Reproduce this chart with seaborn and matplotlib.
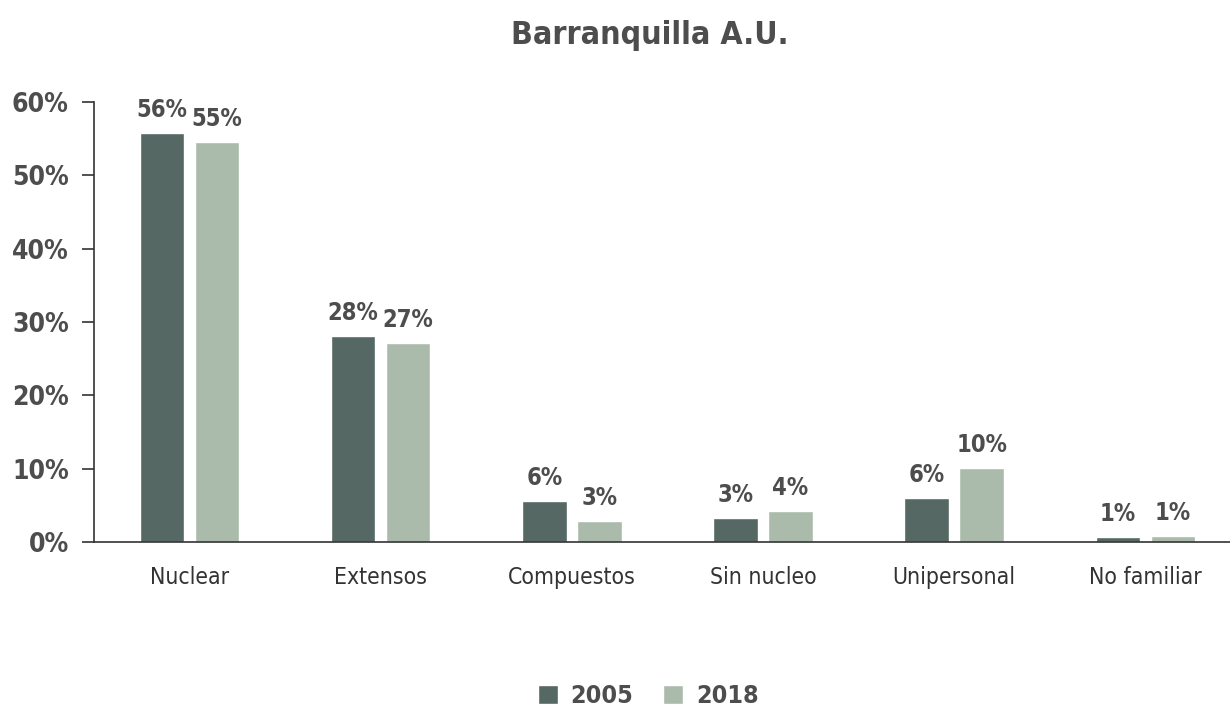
import pandas as pd
import matplotlib.pyplot as plt
import seaborn as sns

categorias = ['Nuclear', 'Extensos', 'Compuestos', 'Sin nucleo', 'Unipersonal', 'No familiar']
anios = ['2005', '2018']
valores_2005 = [55.8, 28.1, 5.6, 3.3, 6.0, 0.7]
valores_2018 = [54.6, 27.1, 2.9, 4.2, 10.1, 0.8]
colores = ['#536b66', '#a9bda9']
texto = '#4d4d4d'

df = pd.DataFrame({
    'categoria': categorias * 2,
    'anio': [anios[0]] * len(categorias) + [anios[1]] * len(categorias),
    'valor': valores_2005 + valores_2018,
})

sns.set_theme(style='ticks', rc={'axes.facecolor': 'white', 'figure.facecolor': 'white'})
plt.rcParams['font.family'] = ['DejaVu Sans']
plt.rcParams['font.stretch'] = 'condensed'

fig = plt.figure(figsize=(12.3, 7.09), dpi=100)
ax = fig.add_axes([0.0764, 0.2355, 0.9325, 0.6205])

sns.barplot(data=df, x='categoria', y='valor', hue='anio', palette=colores,
            width=0.575, gap=0.19, ax=ax, legend=True)

for cont in ax.containers:
    ax.bar_label(cont, fmt='{:.0f}%', padding=8, fontsize=17, fontweight='bold',
                 color=texto, fontstretch='condensed')

ax.set_ylim(0, 60)
ax.set_xlim(-0.5, 5.5)
ax.set_yticks(range(0, 61, 10))
ax.set_yticklabels([f'{v}%' for v in range(0, 61, 10)], fontsize=19, fontweight='bold',
                   color=texto, fontstretch='condensed')
ax.set_xticklabels(categorias, fontsize=16.5, color='#333333', fontstretch='condensed')
ax.tick_params(axis='y', length=8.6, width=1.2, color='#333333', pad=9.5)
ax.tick_params(axis='x', length=0, pad=17)
ax.set_xlabel('')
ax.set_ylabel('')
sns.despine(ax=ax)
for s in ['left', 'bottom']:
    ax.spines[s].set_color('#333333')
    ax.spines[s].set_linewidth(1.2)

fig.suptitle('Barranquilla A.U.', x=0.528, y=0.972, fontsize=23, fontweight='bold',
             color=texto, fontstretch='condensed')

ax.legend(title=None, loc='lower center', bbox_to_anchor=(0.527, -0.02), bbox_transform=fig.transFigure,
          ncol=2, frameon=False, handlelength=0.8, handleheight=0.8, columnspacing=1.2,
          handletextpad=0.5, borderpad=0.1,
          prop={'size': 18, 'weight': 'bold', 'stretch': 'condensed'},
          labelcolor=texto)

plt.savefig('out.png', dpi=100)
